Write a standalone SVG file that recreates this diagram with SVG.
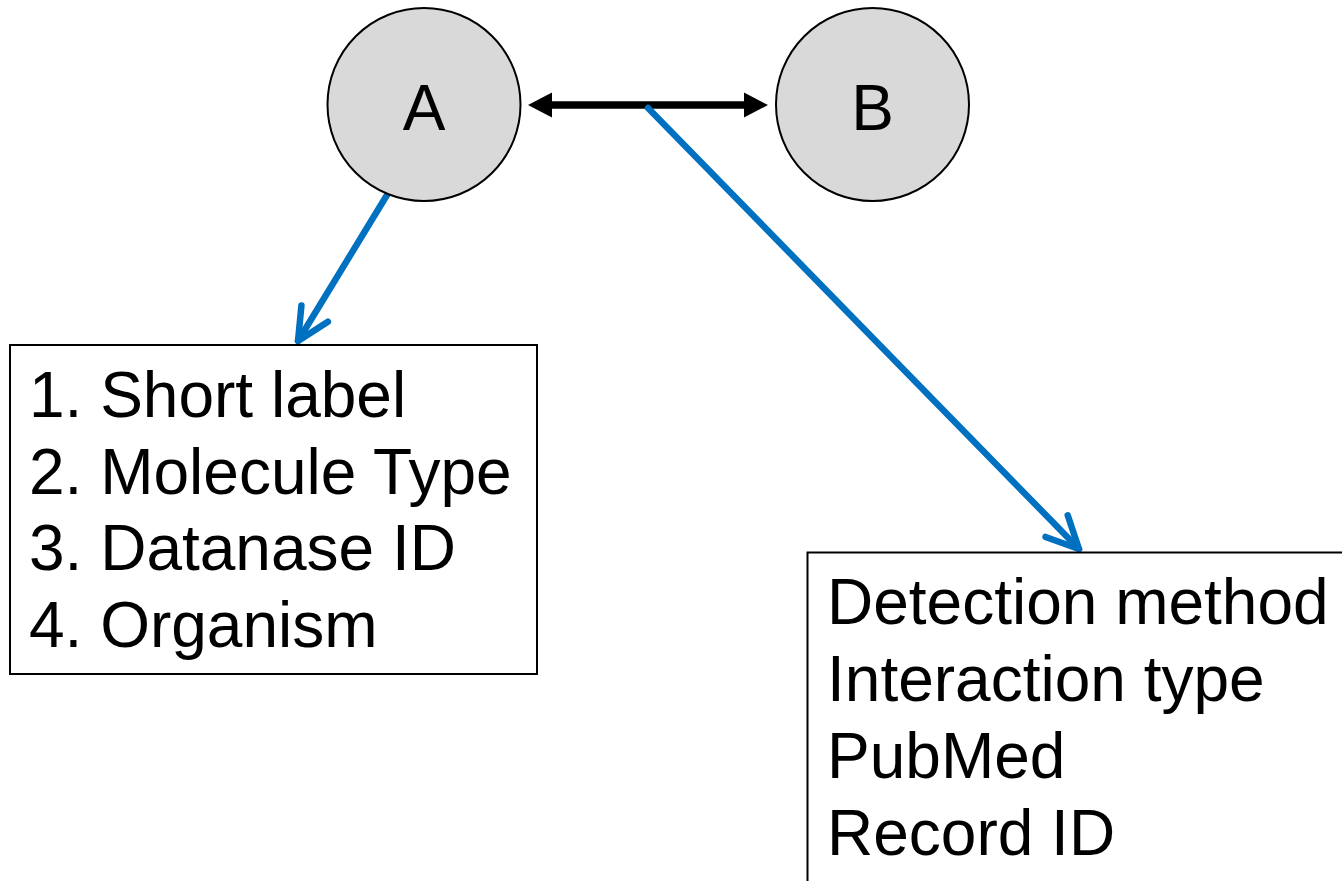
<svg xmlns="http://www.w3.org/2000/svg" width="1342" height="881" viewBox="0 0 1342 881">
<style>
.bg{fill:#ffffff}
.node{fill:#D9D9D9;stroke:#000;stroke-width:2}
.box{fill:#ffffff;stroke:#000;stroke-width:2}
.t{font-family:"Liberation Sans",Arial,sans-serif;font-size:64px;fill:#000}
.blue{stroke:#0070C0;stroke-width:6.5;fill:none;stroke-linecap:round}
.black{stroke:#000;stroke-width:7.5;fill:none}
</style>
<defs>
<marker id="blueArrow" markerUnits="userSpaceOnUse" markerWidth="50" markerHeight="50" viewBox="-40 -25 50 50" refX="0" refY="0" orient="auto" overflow="visible">
<path d="M-32,-15.5 L0,0 L-32,15.5" fill="none" stroke="#0070C0" stroke-width="6.5" stroke-linecap="round" stroke-linejoin="round"/>
</marker>
<marker id="blackArrow" markerUnits="userSpaceOnUse" markerWidth="30" markerHeight="30" viewBox="0 -15 30 30" refX="4" refY="0" orient="auto-start-reverse" overflow="visible">
<path d="M0,-12.5 L24,0 L0,12.5 z" fill="#000"/>
</marker>
</defs>
<rect class="bg" x="0" y="0" width="1342" height="881"/>
<g id="connectors">
<line class="black" x1="548" y1="105" x2="748" y2="105" marker-start="url(#blackArrow)" marker-end="url(#blackArrow)"/>
<line class="blue" x1="387" y1="195" x2="298" y2="341" marker-end="url(#blueArrow)"/>
<line class="blue" x1="648" y1="108" x2="1079" y2="549" marker-end="url(#blueArrow)"/>
</g>
<g id="nodeA">
<circle class="node" cx="424" cy="104.5" r="96.5"/>
<text class="t" x="424" y="130" text-anchor="middle">A</text>
</g>
<g id="nodeB">
<circle class="node" cx="872.5" cy="104.5" r="96.5"/>
<text class="t" x="872.5" y="130" text-anchor="middle">B</text>
</g>
<g id="boxA">
<rect class="box" x="10" y="345" width="527" height="329"/>
<text class="t" x="29" y="417">1. Short label</text>
<text class="t" x="29" y="494">2. Molecule Type</text>
<text class="t" x="29" y="570">3. Datanase ID</text>
<text class="t" x="29" y="647">4. Organism</text>
</g>
<g id="boxInteraction">
<rect class="box" x="807.5" y="552.5" width="540" height="340"/>
<text class="t" x="827" y="624">Detection method</text>
<text class="t" x="827" y="701">Interaction type</text>
<text class="t" x="827" y="778">PubMed</text>
<text class="t" x="827" y="855">Record ID</text>
</g>
</svg>
